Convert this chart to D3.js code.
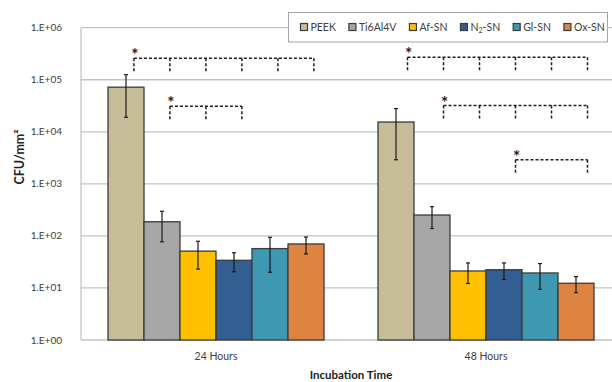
<!DOCTYPE html>
<html>
<head>
<meta charset="utf-8">
<script src="https://cdn.jsdelivr.net/npm/d3@7"></script>
<style>
  html, body { margin: 0; padding: 0; background: #fff; }
  svg { display: block; font-family: Lato, "Open Sans", sans-serif; }
</style>
</head>
<body>
<svg id="chart" width="612" height="382"></svg>
<script>
// ---------- DATA ----------
const groups = ["24 Hours", "48 Hours"];
const series = ["PEEK", "Ti6Al4V", "Af-SN", "N₂-SN", "Gl-SN", "Ox-SN"];
const colors = ["#c6bd98", "#a6a6a6", "#ffc000", "#335e92", "#3f98b2", "#de8442"];
const means24 = [72000, 187, 51, 34, 57, 70];
const errors24 = [53000, 110, 28, 13.5, 37, 25];
const means48 = [15400, 252, 21.2, 22.4, 19.4, 12.3];
const errors48 = [12500, 113, 9, 7.8, 10, 4.2];
const yTicks = [1, 10, 100, 1000, 10000, 100000, 1000000];
const yTickLabels = ["1.E+00", "1.E+01", "1.E+02", "1.E+03", "1.E+04", "1.E+05", "1.E+06"];
// significance brackets: group, series indices joined, bracket level (CFU/mm²)
const brackets = [
  { group: "24 Hours", members: [0, 1, 2, 3, 4, 5], level: 2.6e5 },
  { group: "24 Hours", members: [1, 2, 3], level: 3.1e4 },
  { group: "48 Hours", members: [0, 1, 2, 3, 4, 5], level: 2.7e5 },
  { group: "48 Hours", members: [1, 2, 3, 4, 5], level: 3.2e4 },
  { group: "48 Hours", members: [3, 5], level: 2.9e3 }
];
const yTitle = "CFU/mm²";
const xTitle = "Incubation Time";

// ---------- LAYOUT ----------
const svg = d3.select("#chart");
const plot = { left: 81, right: 621, top: 27.7, bottom: 340 };
const tickOffsetFrac = { "24 Hours": 0.22, "48 Hours": 0.32 };

const x0 = d3.scaleBand().domain(groups).range([plot.left, plot.right])
  .paddingInner(0.2).paddingOuter(0.1);
const x1 = d3.scaleBand().domain(series).range([0, x0.bandwidth()]).padding(0);
const y = d3.scaleLog().domain([1, 1e6]).range([plot.bottom, plot.top]);

const data = [];
groups.forEach((g, gi) => {
  const m = gi === 0 ? means24 : means48;
  const e = gi === 0 ? errors24 : errors48;
  series.forEach((s, si) => data.push({ group: g, series: s, idx: si, mean: m[si], err: e[si] }));
});

// gridlines
svg.append("g").selectAll("line").data(yTicks).join("line")
  .attr("x1", plot.left).attr("x2", plot.right)
  .attr("y1", d => y(d)).attr("y2", d => y(d))
  .attr("stroke", "#c3c3c3").attr("stroke-width", 1.3);
svg.append("line").attr("x1", plot.left).attr("x2", plot.left)
  .attr("y1", plot.top).attr("y2", plot.bottom)
  .attr("stroke", "#c3c3c3").attr("stroke-width", 1.3);

// y tick labels
svg.append("g").selectAll("text").data(yTicks).join("text")
  .attr("x", 62).attr("y", d => y(d)).attr("dy", "0.35em")
  .attr("text-anchor", "end").attr("font-size", 10).attr("fill", "#404040")
  .text((d, i) => yTickLabels[i]);

// bars
svg.append("g").selectAll("rect").data(data).join("rect")
  .attr("x", d => x0(d.group) + x1(d.series))
  .attr("width", x1.bandwidth())
  .attr("y", d => y(d.mean))
  .attr("height", d => y(1) - y(d.mean))
  .attr("fill", d => colors[d.idx])
  .attr("stroke", "#3b3b3b").attr("stroke-width", 1.3);

// error bars
const eg = svg.append("g").attr("stroke", "#1a1a1a").attr("stroke-width", 1.2);
data.forEach(d => {
  const cx = x0(d.group) + x1(d.series) + x1.bandwidth() / 2;
  const yt = y(d.mean + d.err), yb = y(d.mean - d.err);
  eg.append("line").attr("x1", cx).attr("x2", cx).attr("y1", yt).attr("y2", yb);
  eg.append("line").attr("x1", cx - 2).attr("x2", cx + 2).attr("y1", yt).attr("y2", yt);
  eg.append("line").attr("x1", cx - 2).attr("x2", cx + 2).attr("y1", yb).attr("y2", yb);
});

// significance brackets
const bg = svg.append("g");
brackets.forEach(b => {
  const xs = b.members.map(i => x0(b.group) + x1(series[i]) + x1.bandwidth() / 2 + x1.bandwidth() * tickOffsetFrac[b.group]);
  const ly = y(b.level);
  const drop = 14;
  const g = bg.append("g").attr("stroke", "#1e1e1e").attr("stroke-width", 1.5)
    .attr("stroke-dasharray", "3,2").attr("fill", "none");
  g.append("line").attr("x1", xs[0]).attr("x2", xs[xs.length - 1]).attr("y1", ly).attr("y2", ly);
  xs.forEach(xx => g.append("line").attr("x1", xx).attr("x2", xx).attr("y1", ly).attr("y2", ly + drop));
  bg.append("text").attr("x", xs[0] + 1).attr("y", ly + 3).attr("text-anchor", "middle")
    .attr("font-size", 17).attr("font-weight", "bold").attr("fill", "#1e1e1e").text("*");
});

// axis labels
svg.append("g").selectAll("text").data(groups).join("text")
  .attr("x", d => x0(d) + x0.bandwidth() / 2).attr("y", 360)
  .attr("text-anchor", "middle").attr("font-size", 10.5).attr("fill", "#404040")
  .text(d => d);
svg.append("text").attr("x", (plot.left + plot.right) / 2).attr("y", 379)
  .attr("text-anchor", "middle").attr("font-size", 11.5).attr("font-weight", "bold")
  .attr("fill", "#222").text(xTitle);
svg.append("text").attr("transform", "translate(24,157) rotate(-90)")
  .attr("text-anchor", "middle").attr("font-size", 12.5).attr("font-weight", "bold")
  .attr("fill", "#222").text(yTitle);

// legend
const lg = svg.append("g");
lg.append("rect").attr("x", 288.5).attr("y", 12.5).attr("width", 319).attr("height", 29.5)
  .attr("fill", "#fff").attr("stroke", "#a6a6a6").attr("stroke-width", 1);
let lx = 300.5;
series.forEach((s, i) => {
  lg.append("rect").attr("x", lx).attr("y", 23.5).attr("width", 7).attr("height", 7)
    .attr("fill", colors[i]).attr("stroke", "#3b3b3b").attr("stroke-width", 1.2);
  const t = lg.append("text").attr("x", lx + 10).attr("y", 30.5)
    .attr("font-size", 10.5).attr("fill", "#404040");
  if (s.includes("₂")) {
    const parts = s.split("₂");
    t.append("tspan").text(parts[0]);
    t.append("tspan").attr("font-size", 7).attr("dy", 2).text("2");
    t.append("tspan").attr("dy", -2).text(parts[1]);
  } else {
    t.text(s);
  }
  lx += 10 + t.node().getComputedTextLength() + 13;
});
</script>
</body>
</html>
